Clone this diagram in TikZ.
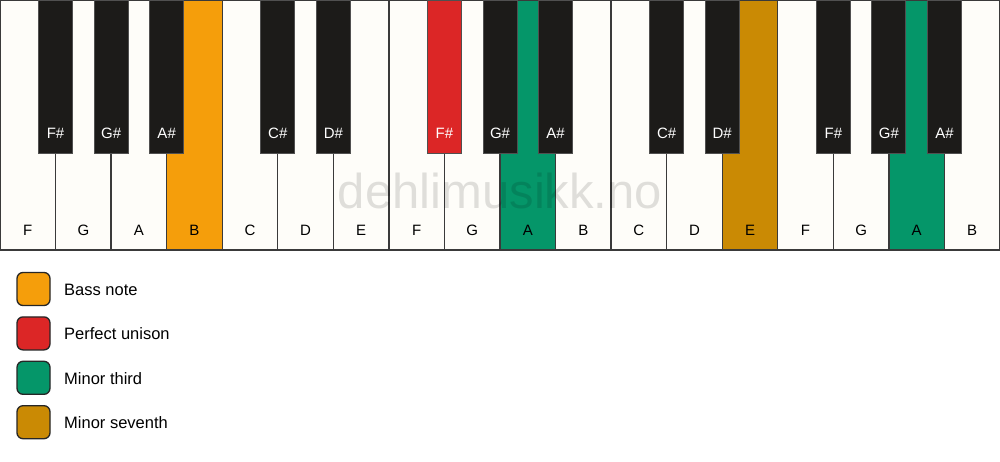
\documentclass[tikz,border=0pt]{standalone}
\usepackage{fontspec}
\setmainfont{Liberation Sans}
\definecolor{keywhite}{HTML}{FEFDF9}
\definecolor{keyblack}{HTML}{1C1B19}
\definecolor{keyline}{HTML}{3A3A3A}
\definecolor{blackline}{HTML}{505050}
\definecolor{bassc}{HTML}{F59E0B}
\definecolor{unisonc}{HTML}{DC2626}
\definecolor{thirdc}{HTML}{059669}
\definecolor{seventhc}{HTML}{CA8A04}
\begin{document}
\begin{tikzpicture}[x=1pt,y=-1pt,
  whitekey/.style={draw=keyline,line width=1.3pt,minimum width=55.556pt,minimum height=250pt,inner sep=0pt,outer sep=0pt,anchor=north west},
  blackkey/.style={draw=blackline,line width=0.9pt,minimum width=34pt,minimum height=153pt,inner sep=0pt,outer sep=0pt,anchor=north},
  wlabel/.style={font=\fontsize{15}{18}\selectfont,text=black,inner sep=0pt,text height=10.8pt,text depth=0pt},
  blabel/.style={font=\fontsize{15}{18}\selectfont,text=white,inner sep=0pt,text height=10.8pt,text depth=0pt},
  legbox/.style={draw=black!85,line width=1.3pt,rounded corners=6pt,minimum width=33pt,minimum height=33pt,inner sep=0pt},
  legtext/.style={font=\fontsize{16.5}{19}\selectfont,text=black,inner sep=0pt,anchor=west,text height=11.8pt,text depth=0pt},
  wmark/.style={font=\fontsize{49}{58}\selectfont,text=black,opacity=0.12,inner sep=0pt,anchor=base}
]
\useasboundingbox[fill=white] (0,0) rectangle (1000,461);
\foreach \n/\c [count=\i from 0] in {F/keywhite,G/keywhite,A/keywhite,B/bassc,C/keywhite,D/keywhite,E/keywhite,F/keywhite,G/keywhite,A/thirdc,B/keywhite,C/keywhite,D/keywhite,E/seventhc,F/keywhite,G/keywhite,A/thirdc,B/keywhite} {
  \node[whitekey,fill=\c] (w\i) at (\i*55.5556,0) {};
  \node[wlabel] (wl\i) at (\i*55.5556+27.778,230.5) {\n};
}
\node[wmark] (wm) at (500,208) {dehlimusikk.no};
\foreach \b/\n/\c in {1/F\#/keyblack,2/G\#/keyblack,3/A\#/keyblack,5/C\#/keyblack,6/D\#/keyblack,8/F\#/unisonc,9/G\#/keyblack,10/A\#/keyblack,12/C\#/keyblack,13/D\#/keyblack,15/F\#/keyblack,16/G\#/keyblack,17/A\#/keyblack} {
  \node[blackkey,fill=\c] (b\b) at (\b*55.5556,0) {};
  \node[blabel] (bl\b) at (\b*55.5556,133.3) {\n};
}
\foreach \c/\t [count=\i from 0] in {bassc/Bass note,unisonc/Perfect unison,thirdc/Minor third,seventhc/Minor seventh} {
  \node[legbox,fill=\c] (lb\i) at (33.5,289+\i*44.4) {};
  \node[legtext] (lt\i) at (64,289.5+\i*44.4) {\t};
}
\end{tikzpicture}
\end{document}
